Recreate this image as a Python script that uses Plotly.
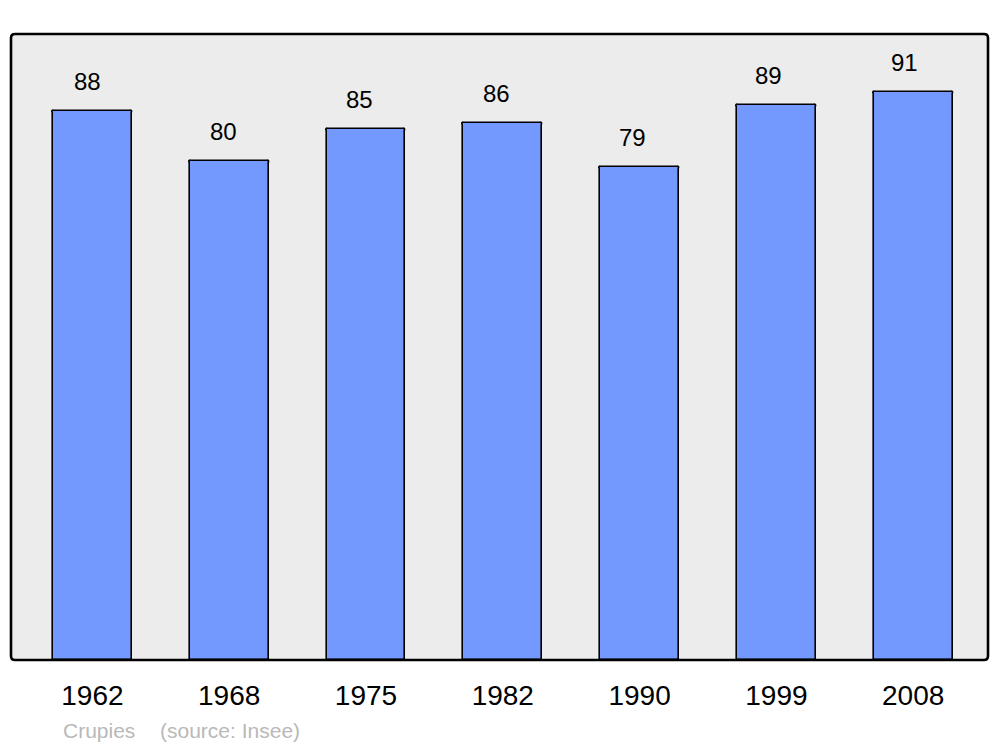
import plotly.graph_objects as go

years = ["1962", "1968", "1975", "1982", "1990", "1999", "2008"]
population = [88, 80, 85, 86, 79, 89, 91]
commune = "Crupies"
source_note = "(source: Insee)"

xpos = list(range(len(years)))

# page offset of the figure (default body margin)
OFF = 8
W, H = 984, 739
plot_l, plot_r, plot_t, plot_b = 11 - OFF, 988 - OFF, 34 - OFF, 660 - OFF
plot_w, plot_h = plot_r - plot_l, plot_b - plot_t

fig = go.Figure()
fig.add_trace(go.Bar(
    x=xpos, y=population, width=0.575,
    marker=dict(color="#7399ff", line=dict(color="black", width=1.6), cornerradius=2),
    hoverinfo="skip",
))

for xi, v in zip(xpos, population):
    fig.add_annotation(x=xi, y=v, text=str(v), showarrow=False, yanchor="bottom",
                       yshift=14, xshift=-5 - 0.55 * xi,
                       font=dict(family="Liberation Sans", size=24, color="black"))

src_font = dict(family="Liberation Sans", size=21, color="#b9b9b9")
fig.add_annotation(xref="paper", yref="paper", x=(61 - 11) / plot_w, y=-(730 - 660) / plot_h,
                   xanchor="left", yanchor="middle", text=commune, showarrow=False, font=src_font)
fig.add_annotation(xref="paper", yref="paper", x=(158 - 11) / plot_w, y=-(730 - 660) / plot_h,
                   xanchor="left", yanchor="middle", text=source_note, showarrow=False, font=src_font)

# rounded frame
rx, ry = 4 / plot_w, 4 / plot_h
path = (f"M {rx},0 L {1-rx},0 Q 1,0 1,{ry} L 1,{1-ry} Q 1,1 {1-rx},1 "
        f"L {rx},1 Q 0,1 0,{1-ry} L 0,{ry} Q 0,0 {rx},0 Z")
fig.add_shape(type="path", xref="paper", yref="paper", path=path,
              line=dict(color="black", width=2.6), layer="above")

fig.update_layout(
    width=W, height=H,
    margin=dict(l=plot_l, r=W - plot_r, t=plot_t, b=H - plot_b),
    paper_bgcolor="white", plot_bgcolor="#ececec",
    showlegend=False, bargap=0,
    xaxis=dict(range=[-0.595, 6.547], tickmode="array", tickvals=xpos, ticktext=years,
               showgrid=False, zeroline=False, showline=False, ticks="",
               tickfont=dict(family="Liberation Sans", size=28, color="black"),
               ticklabelstandoff=16),
    yaxis=dict(range=[0, 100.3], showgrid=False, zeroline=False, showticklabels=False,
               showline=False, ticks=""),
)

fig.write_html("out.html")
